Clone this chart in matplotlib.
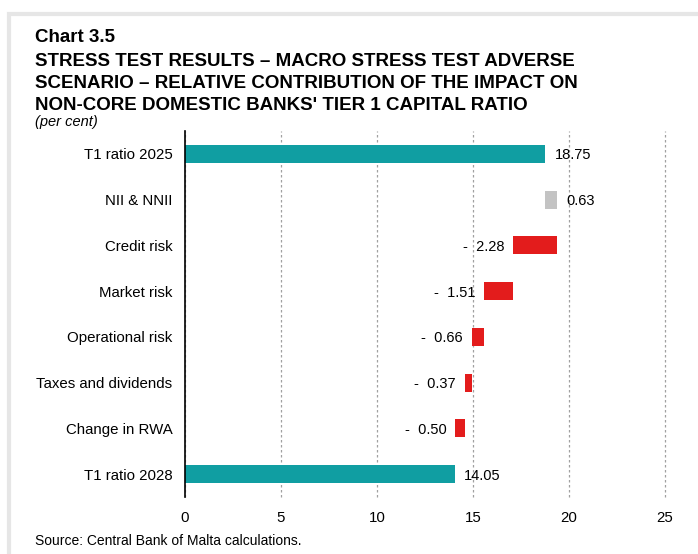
import matplotlib
matplotlib.use("Agg")
import matplotlib.pyplot as plt
from matplotlib.patches import Rectangle

plt.rcParams["font.family"] = ["Liberation Sans", "DejaVu Sans"]

# waterfall data (per cent)
categories = ["T1 ratio 2025", "NII & NNII", "Credit risk", "Market risk",
              "Operational risk", "Taxes and dividends", "Change in RWA", "T1 ratio 2028"]
start_ratio = 18.75
changes = [0.63, -2.28, -1.51, -0.66, -0.37, -0.50]
end_ratio = 14.05
xticks = [0, 5, 10, 15, 20, 25]

teal = "#109EA2"
grey = "#C3C3C3"
red = "#E31C1C"

W, H = 698, 554
fig = plt.figure(figsize=(W / 100, H / 100), dpi=100)

# light frame around the chart panel
fig.patches.append(Rectangle((9 / W, -0.1), 1.2, 1 - 14 / H + 0.1, transform=fig.transFigure,
                             fill=False, edgecolor="#E6E6E6", linewidth=3, zorder=0))

ax = fig.add_axes([185 / W, (H - 497) / H, (665 - 185) / W, (497 - 131) / H])

ypos = list(range(len(categories)))
h = 0.39
fs = 10.5

# opening and closing totals
ax.barh(ypos[0], start_ratio, height=h, color=teal, zorder=3)
ax.text(start_ratio + 0.5, ypos[0], f"{start_ratio:.2f}", va="center_baseline", ha="left", fontsize=fs)
ax.barh(ypos[-1], end_ratio, height=h, color=teal, zorder=3)
ax.text(end_ratio + 0.5, ypos[-1], f"{end_ratio:.2f}", va="center_baseline", ha="left", fontsize=fs)

# contributions
level = start_ratio
for i, c in enumerate(changes):
    y = ypos[i + 1]
    if c >= 0:
        ax.barh(y, c, left=level, height=h, color=grey, zorder=3)
        ax.text(level + c + 0.5, y, f"{c:.2f}", va="center_baseline", ha="left", fontsize=fs)
    else:
        ax.barh(y, c, left=level, height=h, color=red, zorder=3)
        ax.text(level + c - 0.45, y, f"-  {abs(c):.2f}", va="center_baseline", ha="right", fontsize=fs)
    level += c

ax.set_xlim(0, 25)
ax.set_ylim(len(categories) - 0.5, -0.5)
ax.set_xticks(xticks)
ax.set_yticks(ypos)
ax.set_yticklabels(categories)
ax.tick_params(axis="both", length=0, labelsize=10.8)
ax.tick_params(axis="x", pad=10)
ax.tick_params(axis="y", pad=9)
for s in ["top", "right", "bottom"]:
    ax.spines[s].set_visible(False)
ax.spines["left"].set_color("black")
ax.spines["left"].set_linewidth(1.2)
ax.spines["left"].set_zorder(4)
ax.grid(axis="x", linestyle=(0, (2, 2)), color="#A0A0A0", linewidth=0.9, zorder=0)
for gl in ax.get_xgridlines():
    gl.set_clip_on(False)
ax.set_axisbelow(True)

# titles
tfs = 13.5
fig.text(35 / W, 1 - 38 / H, "Chart 3.5", fontsize=tfs, fontweight="bold", va="center")
title_lines = ["STRESS TEST RESULTS \u2013 MACRO STRESS TEST ADVERSE",
               "SCENARIO \u2013 RELATIVE CONTRIBUTION OF THE IMPACT ON",
               "NON-CORE DOMESTIC BANKS' TIER 1 CAPITAL RATIO"]
for k, line in enumerate(title_lines):
    fig.text(35 / W, 1 - (61 + 22 * k) / H, line, fontsize=tfs, fontweight="bold", va="center")
fig.text(35 / W, 1 - 122 / H, "(per cent)", fontsize=10.5, style="italic", va="center")
fig.text(35 / W, 1 - 541 / H, "Source: Central Bank of Malta calculations.", fontsize=10, va="center")

fig.savefig("out.png", dpi=100)
